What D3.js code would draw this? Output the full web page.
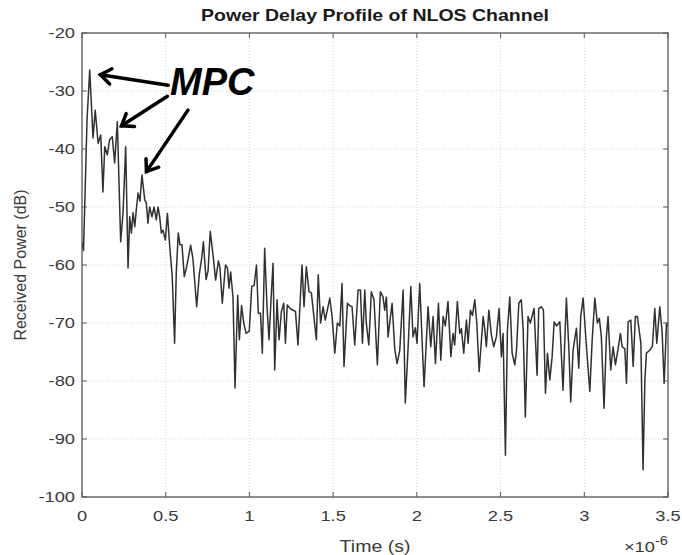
<!DOCTYPE html>
<html>
<head>
<meta charset="utf-8">
<script src="https://cdn.jsdelivr.net/npm/d3@7"></script>
<style>
  html, body { margin: 0; padding: 0; background: #fff; }
  svg { display: block; font-family: "Liberation Sans", Arial, sans-serif; }
  .tick-label { fill: #3a3a3a; font-size: 15px; }
  .axis-label { fill: #3a3a3a; font-size: 16px; }
  .title { fill: #1a1a1a; font-size: 16px; font-weight: bold; }
  .grid { stroke: #d6d6d6; stroke-width: 1; stroke-dasharray: 1,2; }
  .frame { fill: none; stroke: #555; stroke-width: 1.3; }
  .tick { stroke: #555; stroke-width: 1; }
  .pdp { fill: none; stroke: #303030; stroke-width: 1.5; stroke-linejoin: round; }
  .mpc-arrow { stroke: #000; stroke-width: 3.5; stroke-linecap: round; fill: none; }
  .mpc-text { fill: #000; font-size: 38px; font-weight: bold; font-style: italic; }
</style>
</head>
<body>
<svg id="chart" width="682" height="555"></svg>
<script>
// Power delay profile of an NLOS channel, MATLAB-style figure.
// The source picture is stretched sideways a little, so upright text
// gets a horizontal scale (TEXT_SX) to match.

// ---------------------------------------------------------------------------
// Data (time in microseconds)
// ---------------------------------------------------------------------------

const timeUs = [
  0, 0.009, 0.018, 0.030, 0.046, 0.066, 0.079, 0.096, 0.112, 0.125,
  0.136, 0.151, 0.165, 0.181, 0.195, 0.211, 0.231, 0.245, 0.261, 0.275,
  0.285, 0.295, 0.305, 0.315, 0.326, 0.335, 0.346, 0.358, 0.375, 0.384,
  0.394, 0.404, 0.418, 0.430, 0.444, 0.454, 0.464, 0.474, 0.484, 0.498,
  0.510, 0.524, 0.539, 0.553, 0.563, 0.575, 0.585, 0.597, 0.611, 0.625,
  0.649, 0.663, 0.685, 0.701, 0.715, 0.725, 0.741, 0.753, 0.766, 0.784,
  0.798, 0.815, 0.824, 0.838, 0.857, 0.869, 0.878, 0.888, 0.902, 0.914,
  0.930, 0.940, 0.953, 0.966, 0.980, 0.999, 1.014, 1.028, 1.042, 1.053,
  1.066, 1.077, 1.091, 1.105, 1.117, 1.129, 1.141, 1.151, 1.165, 1.177,
  1.191, 1.205, 1.215, 1.226, 1.243, 1.261, 1.275, 1.290, 1.314, 1.326,
  1.340, 1.356, 1.370, 1.400, 1.411, 1.425, 1.440, 1.453, 1.480, 1.494,
  1.510, 1.525, 1.540, 1.553, 1.565, 1.585, 1.599, 1.613, 1.629, 1.649,
  1.663, 1.675, 1.689, 1.698, 1.713, 1.728, 1.744, 1.764, 1.782, 1.798,
  1.808, 1.818, 1.828, 1.852, 1.868, 1.882, 1.898, 1.918, 1.931, 1.948,
  1.964, 1.977, 1.991, 2.001, 2.017, 2.043, 2.067, 2.083, 2.097, 2.111,
  2.129, 2.143, 2.157, 2.170, 2.186, 2.203, 2.216, 2.226, 2.242, 2.256,
  2.266, 2.280, 2.296, 2.306, 2.320, 2.332, 2.346, 2.358, 2.372, 2.396,
  2.406, 2.415, 2.430, 2.445, 2.459, 2.475, 2.491, 2.505, 2.515, 2.529,
  2.541, 2.555, 2.569, 2.585, 2.595, 2.609, 2.624, 2.635, 2.648, 2.664,
  2.678, 2.700, 2.718, 2.728, 2.744, 2.756, 2.768, 2.780, 2.794, 2.808,
  2.820, 2.834, 2.854, 2.873, 2.893, 2.908, 2.919, 2.933, 2.953, 2.967,
  2.979, 2.993, 3.013, 3.033, 3.047, 3.063, 3.078, 3.090, 3.102, 3.118,
  3.132, 3.142, 3.158, 3.172, 3.186, 3.202, 3.216, 3.226, 3.242, 3.252,
  3.262, 3.278, 3.292, 3.305, 3.317, 3.338, 3.351, 3.362, 3.371, 3.391,
  3.407, 3.421, 3.433, 3.451, 3.465, 3.477, 3.491, 3.500
];

const powerDb = [
  -56.0, -57.5, -48.0, -35.0, -26.4, -38.1, -33.3, -39.0, -37.6, -47.4,
  -39.6, -41.0, -38.4, -37.9, -42.4, -35.3, -56.0, -51.0, -39.6, -60.5,
  -51.7, -54.5, -51.0, -53.4, -50.0, -47.6, -49.0, -44.5, -48.8, -49.3,
  -52.8, -50.0, -51.7, -50.0, -52.2, -50.0, -51.7, -54.5, -54.0, -55.7,
  -51.1, -56.8, -62.0, -73.5, -61.4, -54.5, -56.5, -56.5, -62.0, -60.3,
  -56.6, -59.0, -67.2, -61.5, -58.8, -56.0, -62.5, -61.0, -54.2, -58.6,
  -62.6, -59.3, -60.5, -66.6, -60.0, -60.5, -64.0, -61.2, -65.7, -81.2,
  -65.2, -72.9, -67.0, -70.0, -71.8, -71.4, -63.7, -63.5, -60.0, -68.3,
  -68.3, -75.2, -57.1, -67.2, -72.9, -66.0, -59.7, -78.1, -66.0, -72.9,
  -68.0, -66.6, -73.5, -66.9, -67.5, -67.8, -68.0, -73.8, -60.0, -67.2,
  -60.3, -64.6, -64.8, -72.9, -61.7, -70.0, -67.2, -69.5, -65.7, -69.0,
  -75.2, -70.0, -70.5, -63.2, -77.5, -66.6, -67.0, -67.2, -73.8, -64.3,
  -64.3, -73.5, -64.3, -70.0, -73.8, -64.6, -66.0, -77.2, -64.6, -65.5,
  -67.8, -65.5, -72.4, -66.6, -74.5, -77.0, -74.7, -64.3, -83.8, -74.1,
  -63.7, -72.4, -70.8, -73.5, -63.2, -81.0, -67.2, -74.1, -68.9, -77.0,
  -66.6, -76.4, -68.9, -70.5, -66.3, -75.8, -71.8, -73.8, -66.3, -71.8,
  -71.0, -75.2, -69.5, -73.5, -67.8, -68.7, -66.0, -70.0, -78.4, -68.9,
  -71.2, -74.1, -67.8, -72.0, -74.1, -72.4, -67.5, -75.8, -71.8, -92.8,
  -71.2, -65.5, -75.2, -77.2, -74.7, -66.6, -66.0, -71.2, -86.2, -68.9,
  -70.0, -67.5, -79.0, -67.5, -67.2, -67.8, -82.1, -75.2, -79.8, -75.8,
  -69.8, -70.5, -69.8, -81.6, -65.7, -74.5, -83.6, -74.7, -70.9, -77.8,
  -68.8, -65.7, -74.1, -81.8, -73.0, -65.7, -70.0, -69.2, -72.4, -84.7,
  -72.4, -68.9, -78.1, -74.1, -77.2, -74.4, -71.8, -74.1, -74.4, -80.4,
  -69.8, -69.5, -77.5, -68.9, -68.9, -73.5, -95.3, -79.8, -75.2, -74.7,
  -74.0, -67.5, -73.5, -67.2, -71.6, -80.4, -70.0, -70.6
];

const xTicks = [0, 0.5, 1, 1.5, 2, 2.5, 3, 3.5];
const yTicks = [-100, -90, -80, -70, -60, -50, -40, -30, -20];

// MPC annotation arrows: [tailTime, tailDb, tipTime, tipDb]
const mpcArrows = [
  [0.515, -29.0, 0.110, -27.2],
  [0.510, -30.9, 0.236, -36.0],
  [0.633, -33.3, 0.385, -43.9]
];
const mpcLabel = { t: 0.526, db: -30.7, text: 'MPC' };

// ---------------------------------------------------------------------------
// Layout
// ---------------------------------------------------------------------------

const W = 682, H = 555;
const M = { top: 33, right: 14, bottom: 58, left: 82 };
const iW = W - M.left - M.right;
const iH = H - M.top - M.bottom;
const TICK_LEN = 5;
const TEXT_SX = 1.22;

const svg = d3.select('#chart');
svg.append('rect').attr('width', W).attr('height', H).attr('fill', '#fff');

const g = svg.append('g').attr('transform', `translate(${M.left},${M.top})`);

const x = d3.scaleLinear().domain([0, 3.5]).range([0, iW]);
const y = d3.scaleLinear().domain([-100, -20]).range([iH, 0]);

// Upright text, widened by TEXT_SX around its anchor point.
function wideText(parent, px, py, cls, anchor) {
  return parent.append('text')
    .attr('class', cls)
    .attr('text-anchor', anchor)
    .attr('transform', `translate(${px},${py}) scale(${TEXT_SX},1)`);
}

// ---------------------------------------------------------------------------
// Grid
// ---------------------------------------------------------------------------

g.selectAll('.grid-x')
  .data(xTicks.slice(1, -1))
  .join('line')
  .attr('class', 'grid')
  .attr('x1', d => x(d)).attr('x2', d => x(d))
  .attr('y1', 0).attr('y2', iH);

g.selectAll('.grid-y')
  .data(yTicks.slice(1, -1))
  .join('line')
  .attr('class', 'grid')
  .attr('x1', 0).attr('x2', iW)
  .attr('y1', d => y(d)).attr('y2', d => y(d));

// ---------------------------------------------------------------------------
// Data line
// ---------------------------------------------------------------------------

g.append('clipPath').attr('id', 'plot-clip')
  .append('rect').attr('width', iW).attr('height', iH);

const line = d3.line()
  .x((d, i) => x(timeUs[i]))
  .y(d => y(d));

g.append('path')
  .attr('class', 'pdp')
  .attr('clip-path', 'url(#plot-clip)')
  .attr('d', line(powerDb));

// ---------------------------------------------------------------------------
// Box and ticks (inward, on all four sides)
// ---------------------------------------------------------------------------

g.append('rect').attr('class', 'frame')
  .attr('x', 0).attr('y', 0).attr('width', iW).attr('height', iH);

for (const v of xTicks) {
  const px = x(v);
  g.append('line').attr('class', 'tick')
    .attr('x1', px).attr('x2', px).attr('y1', iH).attr('y2', iH - TICK_LEN);
  g.append('line').attr('class', 'tick')
    .attr('x1', px).attr('x2', px).attr('y1', 0).attr('y2', TICK_LEN);
  wideText(g, px, iH + 24, 'tick-label', 'middle')
    .text(d3.format('~g')(v));
}

for (const v of yTicks) {
  const py = y(v);
  g.append('line').attr('class', 'tick')
    .attr('x1', 0).attr('x2', TICK_LEN).attr('y1', py).attr('y2', py);
  g.append('line').attr('class', 'tick')
    .attr('x1', iW).attr('x2', iW - TICK_LEN).attr('y1', py).attr('y2', py);
  wideText(g, -7, py + 5, 'tick-label', 'end')
    .text(v);
}

// Exponent label
const expo = wideText(g, iW, iH + 55, 'tick-label', 'end');
expo.append('tspan').text('\u00d710');
expo.append('tspan').attr('dy', -7).attr('font-size', 12).text('-6');

// ---------------------------------------------------------------------------
// Labels
// ---------------------------------------------------------------------------

wideText(svg, M.left + iW / 2, 21, 'title', 'middle')
  .text('Power Delay Profile of NLOS Channel');

wideText(svg, M.left + iW / 2, 552, 'axis-label', 'middle')
  .text('Time (s)');

svg.append('text').attr('class', 'axis-label')
  .attr('transform', `translate(26,${M.top + iH / 2}) rotate(-90)`)
  .attr('text-anchor', 'middle')
  .text('Received Power (dB)');

// ---------------------------------------------------------------------------
// MPC annotation
// ---------------------------------------------------------------------------

const HEAD = 13;
mpcArrows.forEach(([t0, d0, t1, d1]) => {
  const x0 = x(t0), y0 = y(d0), x1 = x(t1), y1 = y(d1);
  const ang = Math.atan2(y0 - y1, x0 - x1);
  const a1 = ang + Math.PI / 5, a2 = ang - Math.PI / 5;
  g.append('path').attr('class', 'mpc-arrow')
    .attr('d', `M${x0},${y0}L${x1},${y1}`);
  g.append('path').attr('class', 'mpc-arrow')
    .attr('stroke-linejoin', 'miter')
    .attr('d', `M${x1 + HEAD * Math.cos(a1)},${y1 + HEAD * Math.sin(a1)}` +
               `L${x1},${y1}` +
               `L${x1 + HEAD * Math.cos(a2)},${y1 + HEAD * Math.sin(a2)}`);
});

g.append('text').attr('class', 'mpc-text')
  .attr('x', x(mpcLabel.t)).attr('y', y(mpcLabel.db))
  .text(mpcLabel.text);
</script>
</body>
</html>
